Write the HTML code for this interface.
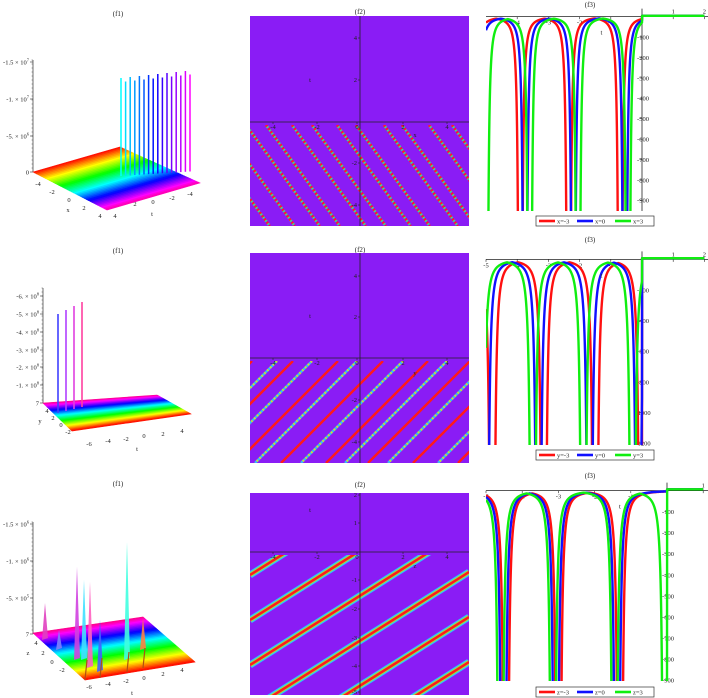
<!DOCTYPE html>
<html><head><meta charset="utf-8">
<style>
html,body{margin:0;padding:0;background:#fff;overflow:hidden;}
svg{display:block;font-family:"Liberation Serif",serif;}
</style></head>
<body>
<svg id="fig" width="708" height="698" viewBox="0 0 708 698" xmlns="http://www.w3.org/2000/svg">
<defs>
<clipPath id="c1"><rect x="486" y="10" width="222" height="201"/></clipPath>
<clipPath id="c2"><rect x="486" y="250" width="222" height="195"/></clipPath>
<clipPath id="c3"><rect x="486" y="482" width="222" height="199"/></clipPath>
<clipPath id="h1"><rect x="250" y="125" width="219" height="101"/></clipPath>
<clipPath id="h2"><rect x="250" y="361" width="219" height="102"/></clipPath>
<clipPath id="h3"><rect x="250" y="555" width="219" height="140"/></clipPath>
</defs>
<g id="root"></g>
</svg>
<script>
// ---------- data ----------
const r1Red=[-5.45,-3.9,-2.35,-0.7];
const r1Blue=[-5.3,-3.75,-2.2,-0.55];
const r1Green=[-5.0,-3.6,-2.05,-0.45];
const r2Red=[-4.8,-3.15,-1.5,-0.02];
const r2Blue=[-5.0,-3.32,-1.68,-0.12];
const r2Green=[-5.15,-3.5,-1.88,-0.3];
const r3Red=[-5.95,-4.45,-3.0,-1.3];
const r3Blue=[-6.0,-4.52,-3.07,-1.38];
const r3Green=[-6.1,-4.6,-3.15,-1.45,-0.05];
const r1Ticks=[-100,-200,-300,-400,-500,-600,-700,-800,-900];
const r2Ticks=[-200,-400,-600,-800,-1000,-1200];
const r3Ticks=[-100,-200,-300,-400,-500,-600,-700,-800,-900];
const h1Stripes=[146,171,196,221,246,266,292,312,337,356,384,402,429,452];
const h2Stripes=[205,230,252,277,293,312,338,357,383,403,428,447,470,490,515,540,560];
const h3Stripes=[530,575,620,665,710,755,800,845,890];

const NS="http://www.w3.org/2000/svg";
const root=document.getElementById('root');
function el(tag,attrs,parent){
  const e=document.createElementNS(NS,tag);
  for(const k in attrs)e.setAttribute(k,attrs[k]);
  (parent||root).appendChild(e);
  return e;
}
function txt(x,y,s,size,parent,anchor){
  const t=el('text',{x:x,y:y,'font-size':size||7,'text-anchor':anchor||'middle',fill:'#222'},parent);
  t.textContent=s;
  return t;
}
function hue(h){return 'hsl('+h+',100%,50%)';}

// ---------- titles ----------
[[118,16,'(f1)'],[360,14,'(f2)'],[590,7,'(f3)'],[118,253,'(f1)'],[360,252,'(f2)'],[590,242,'(f3)'],[118,486,'(f1)'],[360,487,'(f2)'],[590,478,'(f3)']].forEach(a=>{
  const t=txt(a[0],a[1],a[2],7);
  
  
});

// ---------- f1 3D surfaces ----------
function lerp(a,b,u){return [a[0]+(b[0]-a[0])*u,a[1]+(b[1]-a[1])*u];}
function plane(L,B,R,F,h0,h1,n,name){
  const g=el('g',{});
  
  
  for(let i=0;i<n;i++){
    const u0=i/n,u1=(i+1)/n;
    const p1=lerp(L,F,u0),p2=lerp(B,R,u0),p3=lerp(B,R,u1),p4=lerp(L,F,u1);
    const c=hue(h0+(h1-h0)*(i+0.5)/n);
    el('polygon',{points:[p1,p2,p3,p4].map(p=>p.join(',')).join(' '),fill:c,stroke:c,'stroke-width':0.6},g);
  }
  return g;
}
function zaxis(x,y0,y1,labels,name){
  const g=el('g',{});
  
  
  el('line',{x1:x,y1:y0,x2:x,y2:y1,stroke:'#333','stroke-width':0.7},g);
  labels.forEach(l=>{
    el('line',{x1:x-3,y1:l[0],x2:x,y2:l[0],stroke:'#333','stroke-width':0.6},g);
    const t=el('text',{x:x-4,y:l[0]+2.5,'font-size':6.5,'text-anchor':'end',fill:'#222'},g);
    t.innerHTML=l[1];
  });
  for(let y=y0;y<y1;y+=4)el('line',{x1:x-1.5,y1:y,x2:x,y2:y,stroke:'#333','stroke-width':0.4},g);
}
// Row 1
zaxis(33,60,172,[[62,'-1.5 × 10<tspan dy="-3" font-size="4.5">7</tspan>'],[99,'-1. × 10<tspan dy="-3" font-size="4.5">7</tspan>'],[136,'-5. × 10<tspan dy="-3" font-size="4.5">6</tspan>'],[172,'0']],'f1-row1-z-axis');
plane([33,172],[120,147],[200,183],[107,210],0,320,40,'f1-row1-surface');
(function(){
  const g=el('g',{});
  for(let i=0;i<16;i++){
    const x=121+i*4.6, top=78-i*0.5+(i%2)*4, bot=176-i*0.3;
    el('line',{x1:x,y1:bot,x2:x,y2:top,stroke:hue(180+i*8),'stroke-width':1.5},g);
  }
})();
[[38,186,'-4'],[52,194,'-2'],[69,202,'0'],[84,210,'2'],[100,218,'4'],[68,212,'x']].forEach(a=>txt(a[0],a[1],a[2],6.5));
[[115,218,'4'],[135,206,'2'],[153,204,'0'],[172,200,'-2'],[190,196,'-4'],[152,216,'t']].forEach(a=>txt(a[0],a[1],a[2],6.5));

// Row 2
zaxis(43,288,403,[[296,'-6. × 10<tspan dy="-3" font-size="4.5">8</tspan>'],[314,'-5. × 10<tspan dy="-3" font-size="4.5">8</tspan>'],[332,'-4. × 10<tspan dy="-3" font-size="4.5">8</tspan>'],[350,'-3. × 10<tspan dy="-3" font-size="4.5">8</tspan>'],[367,'-2. × 10<tspan dy="-3" font-size="4.5">8</tspan>'],[385,'-1. × 10<tspan dy="-3" font-size="4.5">8</tspan>'],[403,'7']],'f1-row2-z-axis');
plane([43,403],[157,395],[191,414],[72,431],330,0,40,'f1-row2-surface');
(function(){
  const g=el('g',{});
  const xs=[58,66,74,82],tops=[314,310,306,302],cols=['#4040ff','#b040ff','#e040e0','#ff40a0'];
  xs.forEach((x,i)=>el('line',{x1:x,y1:413-i*2,x2:x,y2:tops[i],stroke:cols[i],'stroke-width':1.6},g));
})();
[[47,413,'4'],[53,420,'2'],[61,427,'0'],[68,434,'-2'],[40,423,'y']].forEach(a=>txt(a[0],a[1],a[2],6.5));
[[89,446,'-6'],[108,443,'-4'],[126,441,'-2'],[144,438,'0'],[163,436,'2'],[182,433,'4'],[137,451,'t']].forEach(a=>txt(a[0],a[1],a[2],6.5));

// Row 3
zaxis(33,522,634,[[524,'-1.5 × 10<tspan dy="-3" font-size="4.5">6</tspan>'],[561,'-1. × 10<tspan dy="-3" font-size="4.5">6</tspan>'],[598,'-5. × 10<tspan dy="-3" font-size="4.5">5</tspan>'],[634,'7']],'f1-row3-z-axis');
plane([33,633],[143,617],[195,662],[85,680],330,0,40,'f1-row3-surface');
(function(){
  const g=el('g',{});
  const sp=[[45,603,640,'#e040c0'],[59,630,650,'#8080ff'],[77,567,660,'#d040e0'],[84,580,660,'#40e0ff'],[90,582,668,'#ff60c0'],[100,620,672,'#4060ff'],[127,542,660,'#40ffe0'],[143,618,650,'#ff8040']];
  sp.forEach(s=>el('polygon',{points:(s[0]-3)+','+s[2]+' '+s[0]+','+s[1]+' '+(s[0]+3)+','+(s[2]-2),fill:s[3],opacity:0.9},g));
  [[85,680],[100,678],[127,672],[143,668]].forEach(p=>el('line',{x1:p[0],y1:p[1],x2:p[0]+2,y2:p[1]-20,stroke:'#b05010','stroke-width':1.2},g));
})();
[[36,645,'4'],[43,655,'2'],[52,664,'0'],[62,672,'-2'],[28,655,'z']].forEach(a=>txt(a[0],a[1],a[2],6.5));
[[89,689,'-6'],[108,686,'-4'],[126,683,'-2'],[144,680,'0'],[163,676,'2'],[182,672,'4'],[132,695,'t']].forEach(a=>txt(a[0],a[1],a[2],6.5));

// ---------- f2 heatmaps ----------
function heatBase(x0,y0,w,h,name){
  const g=el('g',{});
  el('rect',{x:x0,y:y0,width:w,height:h,fill:'#8a1cf5'},g);
  return g;
}
function heatAxes(g,x0,w,y0,h,axY,axX,xt,yt,xl){
  el('line',{x1:x0,y1:axY,x2:x0+w,y2:axY,stroke:'#222','stroke-width':0.8},g);
  el('line',{x1:axX,y1:y0,x2:axX,y2:y0+h,stroke:'#222','stroke-width':0.8},g);
  xt.forEach(a=>{el('line',{x1:a[0],y1:axY,x2:a[0],y2:axY+2,stroke:'#222','stroke-width':0.6},g);txt(a[0],axY+7,a[1],6.5,g);});
  yt.forEach(a=>{el('line',{x1:axX-2,y1:a[0],x2:axX,y2:a[0],stroke:'#222','stroke-width':0.6},g);txt(axX-3,a[0]+2,a[1],6.5,g,'end');});
  txt(xl[0],xl[1],xl[2],6.5,g);
  txt(axX-50,axY-40,'t',6.5,g);
}
(function(){
  const g=heatBase(250,16,219,210,'f2-row1-heatmap');
  const s=el('g',{'clip-path':'url(#h1)'},g);
  const slope=1.37;
  h1Stripes.forEach(x0=>{
    const x1=x0+(226-125)/slope;
    el('line',{x1:x0,y1:125,x2:x1,y2:226,stroke:'#ff2020','stroke-width':2.6,'stroke-dasharray':'2 2'},s);
    el('line',{x1:x0,y1:125,x2:x1,y2:226,stroke:'#40e080','stroke-width':2.6,'stroke-dasharray':'1.5 2.5','stroke-dashoffset':2},s);
  });
  heatAxes(g,250,219,16,210,122,360,[[273,'-4'],[317,'-2'],[357,'0'],[403,'2'],[447,'4']],[[38,'4'],[80,'2'],[163,'-2'],[205,'-4']],[415,137,'x']);
})();
(function(){
  const g=heatBase(250,253,219,210,'f2-row2-heatmap');
  const s=el('g',{'clip-path':'url(#h2)'},g);
  h2Stripes.forEach((x0,i)=>{
    const x1=x0-(463-361);
    if(i%2===0){
      el('line',{x1:x0,y1:361,x2:x1,y2:463,stroke:'#ff1a1a','stroke-width':2.4},s);
    }else{
      el('line',{x1:x0,y1:361,x2:x1,y2:463,stroke:'#c0e040','stroke-width':2.4,'stroke-dasharray':'2 2'},s);
      el('line',{x1:x0,y1:361,x2:x1,y2:463,stroke:'#30c0ff','stroke-width':2.4,'stroke-dasharray':'2 2','stroke-dashoffset':2},s);
    }
  });
  heatAxes(g,250,219,253,210,358,360,[[273,'-4'],[317,'-2'],[357,'0'],[403,'2'],[447,'4']],[[276,'4'],[317,'2'],[400,'-2'],[442,'-4']],[415,375,'y']);
})();
(function(){
  const g=heatBase(250,493,219,202,'f2-row3-heatmap');
  const s=el('g',{'clip-path':'url(#h3)'},g);
  const slope=0.63;
  h3Stripes.forEach(y0=>{
    const y1=y0-slope*219;
    el('line',{x1:250,y1:y0,x2:469,y2:y1,stroke:'#30c0ff','stroke-width':7},s);
    el('line',{x1:250,y1:y0,x2:469,y2:y1,stroke:'#a0e040','stroke-width':4.5},s);
    el('line',{x1:250,y1:y0,x2:469,y2:y1,stroke:'#ff1a1a','stroke-width':2.5},s);
  });
  heatAxes(g,250,219,493,202,552,360,[[273,'-4'],[317,'-2'],[357,'0'],[403,'2'],[447,'4']],[[495,'2'],[523,'1'],[580,'-1'],[609,'-2'],[638,'-3'],[666,'-4'],[692,'-5']],[415,568,'z']);
})();

// ---------- f3 line charts ----------
function lineChart(cfg){
  const g=el('g',{});
  
  
  const X=t=>cfg.xLeft+(t-cfg.tMin)*cfg.pxPerT;
  const Y=v=>cfg.y0-v*cfg.pxPerV;
  el('line',{x1:cfg.xLeft,y1:cfg.y0,x2:708,y2:cfg.y0,stroke:'#222','stroke-width':0.8},g);
  el('line',{x1:X(0),y1:cfg.y0-8,x2:X(0),y2:cfg.yBot,stroke:'#222','stroke-width':0.8},g);
  cfg.xTicks.forEach(t=>{
    el('line',{x1:X(t),y1:cfg.y0,x2:X(t),y2:cfg.y0+2.5,stroke:'#222','stroke-width':0.6},g);
    const lab=el('text',{x:X(t),y:t>0?cfg.y0-3:cfg.y0+8,'font-size':6.5,'text-anchor':'middle',fill:'#222'},g);
    lab.textContent=String(t);
  });
  cfg.yTicks.forEach(v=>{
    el('line',{x1:X(0)-2.5,y1:Y(v),x2:X(0),y2:Y(v),stroke:'#222','stroke-width':0.6},g);
    const lab=el('text',{x:X(0)+1,y:Y(v)+2.5,'font-size':6.5,'text-anchor':'middle',fill:'#222'},g);
    lab.textContent=String(v);
  });
  const cl=el('g',{'clip-path':'url(#'+cfg.clip+')'},g);
  const vmin=-(cfg.yBot-cfg.y0)/cfg.pxPerV-50;
  cfg.series.forEach(sr=>{
    let d='';
    for(let t=cfg.tMin;t<=cfg.tMax+1e-9;t+=0.004){
      let v;
      if(t>0){v=cfg.flat;}
      else{
        let dm=1e9;sr.s.forEach(s=>{const dd=Math.abs(t-s);if(dd<dm)dm=dd;});
        v=-cfg.k/(dm*dm+1e-9);
        if(v<vmin)v=vmin;
      }
      d+=(d?'L':'M')+X(t).toFixed(2)+','+Y(v).toFixed(2);
    }
    const p=el('path',{d:d,fill:'none',stroke:sr.c,'stroke-width':2.4,'stroke-linejoin':'round'},cl);
    
    
  });
  txt(X(-1.3),cfg.y0+18,cfg.axisVar,6.5,g);
  const lg=el('g',{});
  
  
  g.appendChild(lg);
  el('rect',{x:536,y:cfg.legY,width:118,height:10,fill:'#fff',stroke:'#333','stroke-width':0.7},lg);
  cfg.series.forEach((sr,i)=>{
    const x=539+i*38;
    const ent=el('g',{},lg);
    
    
    el('line',{x1:x,y1:cfg.legY+5,x2:x+16,y2:cfg.legY+5,stroke:sr.c,'stroke-width':2.6},ent);
    const t=el('text',{x:x+18,y:cfg.legY+7.5,'font-size':6.5,fill:'#222'},ent);
    t.textContent=sr.label;
  });
}
lineChart({name:'f3-row1-chart',clip:'c1',xLeft:486,tMin:-5,tMax:2,pxPerT:31.2,y0:16.6,pxPerV:0.204,yBot:211,k:6,flat:4,
  xTicks:[-4,-3,-2,-1,1,2],yTicks:r1Ticks,axisVar:'t',legY:216,
  series:[{s:r1Red,c:'#ff1010',label:'x=-3'},{s:r1Blue,c:'#1010ff',label:'x=0'},{s:r1Green,c:'#10ee10',label:'x=3'}]});
lineChart({name:'f3-row2-chart',clip:'c2',xLeft:486,tMin:-5,tMax:2,pxPerT:31.2,y0:259.4,pxPerV:0.153,yBot:445,k:13,flat:8,
  xTicks:[-5,-4,-3,-2,-1,1,2],yTicks:r2Ticks,axisVar:'t',legY:450,
  series:[{s:r2Red,c:'#ff1010',label:'y=-3'},{s:r2Blue,c:'#1010ff',label:'y=0'},{s:r2Green,c:'#10ee10',label:'y=3'}]});
lineChart({name:'f3-row3-chart',clip:'c3',xLeft:486,tMin:-5,tMax:1,pxPerT:36.2,y0:490.6,pxPerV:0.2104,yBot:681,k:7,flat:6,
  xTicks:[-5,-4,-3,-2,-1,1],yTicks:r3Ticks,axisVar:'t',legY:687,
  series:[{s:r3Red,c:'#ff1010',label:'z=-3'},{s:r3Blue,c:'#1010ff',label:'z=0'},{s:r3Green,c:'#10ee10',label:'z=3'}]});
</script>
</body></html>
